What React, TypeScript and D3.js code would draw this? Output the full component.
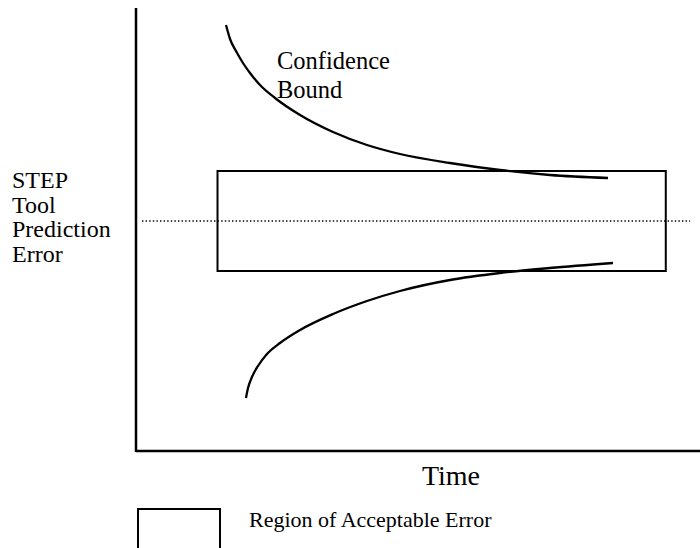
import React from "react";
import * as d3 from "d3";

// Schematic: confidence bounds narrowing over time into the region of acceptable error
const upperX = [15.9, 16.61, 17.67, 18.9, 20.14, 21.91, 24.56, 28.98, 34.81, 40.81, 46.64, 55.48, 64.31, 73.14, 83.39];
const upperY = [3.92, 3.64, 3.4, 3.16, 2.96, 2.72, 2.46, 2.12, 1.78, 1.52, 1.34, 1.16, 1.02, 0.92, 0.86];
const lowerX = [19.43, 19.79, 20.49, 21.55, 23.14, 25.44, 28.98, 34.81, 40.81, 46.64, 55.48, 64.31, 73.14, 84.28];
const lowerY = [-3.54, -3.34, -3.12, -2.9, -2.66, -2.44, -2.18, -1.86, -1.6, -1.4, -1.18, -1.04, -0.94, -0.84];
const regionX = [14.4, 93.6];
const regionY = [-1.0, 1.0];
const targetLine = { x0: 1.06, x1: 97.9, y: 0 };
const yLabelLines = ["STEP", "Tool", "Prediction", "Error"];
const curveLabelLines = ["Confidence", "Bound"];
const xLabel = "Time";
const legendLabel = "Region of Acceptable Error";

const W = 700;
const H = 548;

export default function App() {
  const x = d3.scaleLinear().domain([0, 100]).range([136, 702]);
  const y = d3.scaleLinear().domain([-4.6, 4.3]).range([451, 6]);

  const line = d3
    .line<[number, number]>()
    .x((d) => x(d[0]))
    .y((d) => y(d[1]))
    .curve(d3.curveMonotoneX);

  const upper = upperX.map((v, i) => [v, upperY[i]] as [number, number]);
  const lower = lowerX.map((v, i) => [v, lowerY[i]] as [number, number]);

  const font = "'Liberation Serif', 'Times New Roman', serif";

  return (
    <svg
      width={W}
      height={H}
      style={{ position: "absolute", left: 0, top: 0, background: "#fff" }}
    >
      <rect x={0} y={0} width={W} height={H} fill="#fff" />
      {/* axes */}
      <line x1={x(0)} y1={8} x2={x(0)} y2={y(-4.6) + 1} stroke="#000" strokeWidth={2.5} />
      <line x1={x(0)} y1={y(-4.6)} x2={W} y2={y(-4.6)} stroke="#000" strokeWidth={2.5} />

      {/* region of acceptable error */}
      <rect
        x={x(regionX[0])}
        y={y(regionY[1])}
        width={x(regionX[1]) - x(regionX[0])}
        height={y(regionY[0]) - y(regionY[1])}
        fill="none"
        stroke="#000"
        strokeWidth={2}
      />

      {/* dotted target line */}
      <line
        x1={x(targetLine.x0)}
        x2={x(targetLine.x1)}
        y1={y(targetLine.y)}
        y2={y(targetLine.y)}
        stroke="#000"
        strokeWidth={1.6}
        strokeDasharray="1.4 2.2"
      />

      {/* confidence bounds */}
      <path d={line(upper) || ""} fill="none" stroke="#000" strokeWidth={2.3} />
      <path d={line(lower) || ""} fill="none" stroke="#000" strokeWidth={2.3} />

      {/* labels */}
      <g fontFamily={font} fill="#000">
        {curveLabelLines.map((t, i) => (
          <text key={t} x={277} y={69 + i * 29} fontSize={24.5}>
            {t}
          </text>
        ))}
        {yLabelLines.map((t, i) => (
          <text key={t} x={12} y={188 + i * 24.7} fontSize={24}>
            {t}
          </text>
        ))}
        <text x={451} y={485} fontSize={28} textAnchor="middle">
          {xLabel}
        </text>
        <text x={249} y={527} fontSize={22}>
          {legendLabel}
        </text>
      </g>

      {/* legend swatch */}
      <rect x={138} y={509} width={82} height={50} fill="none" stroke="#000" strokeWidth={2} />
    </svg>
  );
}
